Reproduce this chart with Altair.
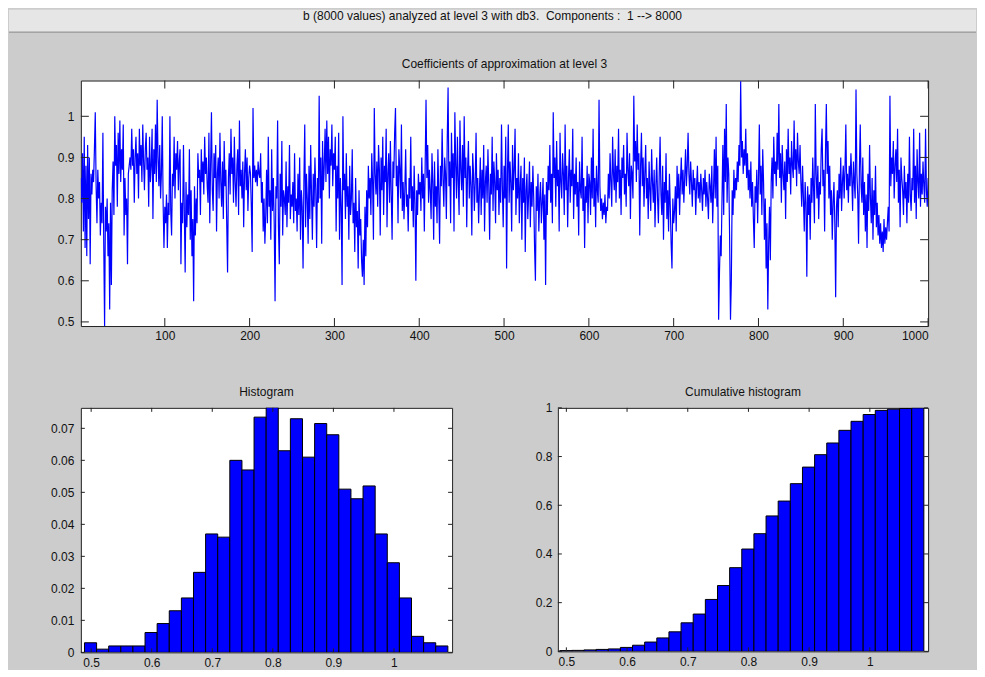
import altair as alt
import pandas as pd
import numpy as np

MAIN_TITLE = "b (8000 values) analyzed at level 3 with db3.\u00a0 Components :\u00a0 1 --> 8000"
TOP_TITLE = "Coefficients of approximation at level 3"
HIST_TITLE = "Histogram"
CUM_TITLE = "Cumulative histogram"

# approximation coefficients (index 1..1000)
coef = [
    0.85, 0.79, 0.91, 0.72, 0.95, 0.68, 0.88, 0.66, 0.93, 0.75,
    0.90, 0.64, 0.86, 0.81, 0.87, 0.84, 0.92, 1.01, 0.83, 0.74,
    0.87, 0.80, 0.84, 0.71, 0.79, 0.74, 0.96, 0.69, 0.49, 0.78,
    0.72, 0.80, 0.66, 0.74, 0.53, 0.79, 0.59, 0.82, 0.89, 0.76,
    1.00, 0.88, 0.93, 0.78, 0.96, 0.86, 0.99, 0.84, 0.92, 0.87,
    0.98, 0.71, 0.85, 0.76, 0.80, 0.64, 0.86, 0.88, 0.90, 0.87,
    0.97, 0.88, 0.92, 0.79, 0.90, 0.95, 0.86, 0.91, 0.80, 0.97,
    0.88, 0.93, 0.84, 0.98, 0.89, 0.82, 0.92, 0.96, 0.87, 0.90,
    0.78, 0.95, 0.84, 0.88, 0.97, 0.75, 0.92, 0.86, 0.98, 0.84,
    1.04, 0.90, 0.83, 0.93, 0.80, 0.86, 1.00, 0.79, 0.68, 0.78,
    0.74, 0.81, 0.68, 0.79, 0.76, 1.00, 0.77, 0.71, 0.86, 0.83,
    0.95, 0.80, 0.91, 0.87, 0.94, 0.82, 0.89, 0.92, 0.64, 0.79,
    0.74, 0.93, 0.77, 0.62, 0.84, 0.73, 0.81, 0.76, 0.92, 0.70,
    0.82, 0.66, 0.75, 0.55, 0.83, 0.71, 0.80, 0.74, 0.91, 0.85,
    0.87, 0.76, 0.92, 0.84, 0.89, 0.81, 0.95, 0.86, 0.90, 0.83,
    0.79, 0.96, 0.74, 0.88, 1.01, 0.82, 0.77, 0.91, 0.85, 0.93,
    0.72, 0.86, 0.90, 0.80, 0.96, 0.84, 0.78, 0.89, 0.75, 0.94,
    0.83, 0.87, 0.74, 0.62, 0.85, 0.91, 0.81, 0.97, 0.86, 0.90,
    0.79, 0.95, 0.84, 0.78, 0.88, 0.92, 0.76, 0.99, 0.83, 0.87,
    0.80, 0.89, 0.73, 0.86, 0.92, 0.82, 0.90, 0.77, 0.85, 0.88,
    0.86, 0.78, 0.67, 1.02, 0.85, 0.88, 0.84, 0.87, 0.83, 0.89,
    0.86, 0.85, 0.91, 0.79, 0.84, 0.72, 0.80, 0.69, 0.76, 0.87,
    0.74, 0.95, 0.78, 0.82, 0.70, 0.92, 0.77, 0.85, 0.74, 0.55,
    0.83, 0.80, 0.99, 0.73, 0.64, 0.86, 0.78, 0.94, 0.71, 0.82,
    0.80, 0.76, 0.89, 0.73, 0.83, 0.79, 0.93, 0.75, 0.81, 0.78,
    0.84, 0.74, 0.91, 0.77, 0.80, 0.72, 0.86, 0.76, 0.90, 0.70,
    0.82, 0.78, 0.63, 0.84, 0.98, 0.73, 0.86, 0.80, 0.69, 0.88,
    0.75, 0.93, 0.81, 0.70, 0.86, 0.78, 0.90, 0.82, 0.68, 0.85,
    0.79, 1.05, 0.80, 0.90, 0.69, 0.94, 0.82, 0.88, 0.97, 0.84,
    0.99, 0.86, 0.95, 0.80, 0.92, 0.88, 0.98, 0.83, 0.91, 0.87,
    0.95, 0.72, 0.88, 0.80, 0.96, 0.70, 0.85, 0.78, 0.59, 1.00,
    0.82, 0.86, 0.75, 0.91, 0.78, 0.83, 0.70, 0.88, 0.76, 0.80,
    0.92, 0.74, 0.79, 0.67, 0.85, 0.73, 0.77, 0.63, 0.82, 0.71,
    0.75, 0.65, 0.61, 0.70, 0.59, 0.78, 0.66, 0.82, 0.73, 0.88,
    0.80, 0.85, 0.76, 0.91, 0.84, 0.70, 1.02, 0.86, 0.81, 0.89,
    0.78, 0.93, 0.87, 0.71, 0.90, 0.82, 0.95, 0.76, 0.88, 0.84,
    0.97, 0.73, 0.86, 0.91, 0.79, 0.94, 0.81, 0.70, 0.89, 0.85,
    0.96, 1.02, 0.83, 0.88, 0.74, 0.92, 0.87, 0.80, 0.98, 0.77,
    0.84, 0.75, 0.82, 0.92, 0.78, 0.81, 0.72, 0.85, 0.80, 0.95,
    0.77, 0.83, 0.73, 0.88, 0.79, 0.60, 0.82, 0.76, 0.86, 0.81,
    0.84, 0.77, 0.90, 0.80, 0.86, 0.72, 0.88, 1.04, 0.85, 0.93,
    0.79, 0.87, 0.82, 0.75, 0.91, 0.84, 0.70, 0.89, 0.78, 0.83,
    0.74, 0.92, 0.81, 0.69, 0.88, 0.83, 0.97, 0.85, 0.78, 0.90,
    0.86, 0.75, 0.94, 1.07, 0.83, 0.89, 0.74, 0.96, 0.85, 0.91,
    0.72, 1.01, 0.88, 0.80, 0.95, 0.84, 0.76, 0.99, 0.87, 0.82,
    0.93, 0.78, 1.00, 0.85, 0.90, 0.73, 0.87, 0.94, 0.80, 0.88,
    0.83, 0.71, 0.91, 0.86, 0.77, 0.84, 0.96, 0.79, 0.85, 0.74,
    0.82, 0.90, 0.76, 0.87, 0.80, 0.93, 0.72, 0.84, 0.88, 0.79,
    0.92, 0.83, 0.70, 0.86, 0.81, 0.95, 0.77, 0.89, 0.84, 0.74,
    0.91, 0.82, 0.87, 0.76, 0.85, 0.79, 0.98, 0.83, 0.73, 0.88,
    0.80, 0.95, 0.63, 0.86, 0.98, 0.79, 0.89, 0.84, 0.72, 0.93,
    0.82, 0.87, 0.97, 0.76, 0.85, 0.80, 0.91, 0.74, 0.83, 0.88,
    0.70, 0.85, 0.79, 0.90, 0.67, 0.82, 0.86, 0.75, 0.81, 0.89,
    0.73, 0.84, 0.78, 0.88, 0.80, 0.68, 0.60, 0.83, 0.77, 0.86,
    0.72, 0.80, 0.84, 0.74, 0.79, 0.85, 0.70, 0.81, 0.59, 0.84,
    0.76, 0.88, 0.82, 0.93, 0.79, 0.86, 0.74, 1.01, 0.85, 0.90,
    0.78, 0.94, 0.83, 0.87, 0.72, 0.96, 0.84, 0.80, 0.91, 0.86,
    0.76, 0.98, 0.82, 0.88, 0.73, 0.85, 0.92, 0.79, 0.87, 0.83,
    0.97, 0.75, 0.86, 0.81, 0.90, 0.78, 0.84, 0.71, 0.89, 0.82,
    0.80, 0.95, 0.77, 0.85, 0.68, 0.83, 0.79, 0.88, 0.74, 0.86,
    0.84, 0.76, 0.90, 0.80, 0.97, 0.78, 0.85, 0.73, 0.88, 0.82,
    0.79, 1.04, 0.83, 0.77, 0.80, 0.75, 0.79, 0.76, 0.81, 0.74,
    0.78, 0.77, 0.86, 0.80, 0.91, 0.84, 0.78, 0.95, 0.86, 0.82,
    0.92, 0.79, 0.88, 0.84, 0.97, 0.80, 0.87, 0.76, 0.90, 0.85,
    0.93, 0.81, 0.86, 0.78, 0.96, 0.87, 0.83, 0.91, 0.75, 0.88,
    0.86, 0.80, 1.05, 0.89, 0.94, 0.84, 0.98, 0.87, 0.91, 0.71,
    0.88, 0.96, 0.83, 0.90, 0.78, 0.86, 0.93, 0.80, 0.85, 0.75,
    0.89, 0.82, 0.77, 0.92, 0.84, 0.79, 0.87, 0.73, 0.83, 0.90,
    0.80, 0.74, 0.86, 0.95, 0.81, 0.76, 0.88, 0.70, 0.84, 0.79,
    0.91, 0.75, 0.82, 0.72, 0.86, 0.78, 0.69, 0.63, 0.80, 0.74,
    0.77, 0.83, 0.72, 0.88, 0.80, 0.86, 0.76, 0.84, 0.90, 0.81,
    0.87, 0.79, 0.85, 0.92, 0.83, 0.88, 0.96, 0.86, 0.81, 0.89,
    0.84, 0.78, 0.87, 0.82, 0.85, 0.76, 0.83, 0.88, 0.80, 0.84,
    0.79, 0.86, 0.82, 0.77, 0.85, 0.81, 0.87, 0.78, 0.84, 0.80,
    0.75, 0.86, 0.83, 0.79, 0.88, 0.74, 0.82, 0.92, 0.80, 0.95,
    0.78, 0.88, 0.505, 0.62, 0.71, 0.66, 0.80, 0.93, 0.76, 0.97,
    0.84, 1.03, 0.79, 0.90, 0.86, 0.70, 0.505, 0.60, 0.82, 0.76,
    0.87, 0.80, 0.85, 0.82, 0.89, 0.84, 0.93, 0.88, 1.085, 0.90,
    0.94, 0.86, 0.92, 0.88, 0.97, 0.85, 0.91, 0.82, 0.87, 0.80,
    0.89, 0.78, 0.84, 0.75, 0.68, 0.83, 0.79, 0.87, 0.74, 0.85,
    0.98, 0.81, 0.88, 0.76, 0.92, 0.84, 0.70, 0.80, 0.63, 0.74,
    0.53, 0.69, 0.78, 0.65, 0.84, 0.90, 0.80, 0.95, 0.86, 0.89,
    0.83, 0.96, 0.87, 1.03, 0.85, 0.91, 0.79, 0.93, 0.86, 0.82,
    0.89, 0.75, 0.92, 0.84, 0.97, 0.86, 0.90, 0.81, 0.94, 0.88,
    0.85, 0.99, 0.87, 0.92, 0.83, 0.96, 0.89, 0.86, 0.93, 0.84,
    0.78, 0.88, 0.80, 0.72, 0.84, 0.79, 0.61, 0.83, 0.76, 0.81,
    0.70, 0.85, 0.79, 0.90, 0.82, 0.74, 1.03, 0.86, 0.80, 0.88,
    0.75, 0.84, 0.81, 0.92, 0.97, 0.83, 0.87, 0.72, 0.91, 1.03,
    0.86, 0.94, 0.80, 0.88, 0.76, 0.82, 0.70, 0.79, 0.84, 0.74,
    0.56, 0.78, 0.82, 0.73, 0.86, 0.80, 0.90, 0.77, 0.84, 0.88,
    0.80, 0.87, 0.98, 0.82, 0.86, 0.79, 0.88, 0.83, 0.91, 0.85,
    0.77, 0.89, 0.84, 0.80, 1.065, 0.86, 0.81, 0.69, 0.87, 0.98,
    0.83, 0.79, 0.90, 0.76, 0.84, 0.72, 0.81, 0.68, 0.86, 0.77,
    0.93, 0.80, 0.74, 0.85, 0.70, 0.82, 0.76, 0.88, 0.73, 0.79,
    0.71, 0.76, 0.69, 0.74, 0.68, 0.72, 0.67, 0.75, 0.69, 0.73,
    0.70, 0.74, 0.78, 0.72, 1.05, 0.83, 0.90, 0.86, 0.94, 0.80,
    0.88, 0.92, 0.84, 0.97, 0.79, 0.87, 0.73, 0.90, 0.85, 0.82,
    0.76, 0.88, 0.80, 0.84, 0.74, 0.86, 0.79, 0.95, 0.81, 0.77,
    0.85, 0.82, 0.97, 0.79, 0.88, 0.75, 0.92, 0.84, 0.80, 0.96,
    0.78, 0.86, 0.81, 0.89, 0.83, 0.79, 0.97, 0.82, 0.78, 0.85,
]

# histogram (30 bins of width 0.02)
bin_centers = [0.499, 0.519, 0.539, 0.559, 0.579, 0.599, 0.619, 0.639, 0.659, 0.679,
               0.699, 0.719, 0.739, 0.759, 0.779, 0.799, 0.819, 0.839, 0.859, 0.879,
               0.899, 0.919, 0.939, 0.959, 0.979, 0.999, 1.019, 1.039, 1.059, 1.079]
bin_freq = [0.003, 0.001, 0.002, 0.002, 0.002, 0.0062, 0.009, 0.013, 0.017, 0.025,
            0.037, 0.036, 0.060, 0.057, 0.0735, 0.0765, 0.063, 0.073, 0.061, 0.0715,
            0.068, 0.051, 0.048, 0.052, 0.037, 0.028, 0.017, 0.005, 0.003, 0.002]
BIN_WIDTH = 0.02

top_x_ticks = [100, 200, 300, 400, 500, 600, 700, 800, 900, 1000]
top_y_ticks = [0.5, 0.6, 0.7, 0.8, 0.9, 1.0]
hist_x_ticks = [0.5, 0.6, 0.7, 0.8, 0.9, 1.0]
hist_y_ticks = [0, 0.01, 0.02, 0.03, 0.04, 0.05, 0.06, 0.07]
cum_y_ticks = [0, 0.2, 0.4, 0.6, 0.8, 1.0]

BG = "#cccccc"
BANNER = "#e6e6e6"
BLUE = "#0000ff"
INK = "#111111"
FONT = "Liberation Sans"
FS = 12

df_coef = pd.DataFrame({"i": list(range(1, len(coef) + 1)), "v": coef})
df_hist = pd.DataFrame({"c": bin_centers, "f": bin_freq})
df_hist["lo"] = df_hist["c"] - BIN_WIDTH / 2
df_hist["hi"] = df_hist["c"] + BIN_WIDTH / 2
df_hist["base"] = 0.0
df_hist["cum"] = np.cumsum(df_hist["f"].to_numpy())


def tick_layers(xvals, xscale, xaxis, yvals, yscale, yaxis, W, H, L):
    dx = pd.DataFrame({"t": xvals})
    dy = pd.DataFrame({"t": yvals})
    out = []
    for y0, y1 in ((H, H - L), (0, L)):
        out.append(alt.Chart(dx).mark_rule(color="#222222", strokeWidth=1).encode(
            x=alt.X("t:Q", scale=xscale, axis=xaxis),
            y=alt.value(y0), y2=alt.value(y1)))
    for x0, x1 in ((0, L), (W, W - L)):
        out.append(alt.Chart(dy).mark_rule(color="#222222", strokeWidth=1).encode(
            y=alt.Y("t:Q", scale=yscale, axis=yaxis),
            x=alt.value(x0), x2=alt.value(x1)))
    return out


def panel_title(text, W, dy):
    d = pd.DataFrame({"txt": [text]})
    return alt.Chart(d).mark_text(font=FONT, fontSize=FS, color=INK,
                                  align="center", baseline="middle").encode(
        x=alt.value(W / 2), y=alt.value(dy), text="txt:N")


# ---------------- top panel ----------------
W1, H1 = 849, 246
xs1 = alt.Scale(domain=[1, 1000], nice=False, zero=False)
ys1 = alt.Scale(domain=[0.49, 1.087], nice=False, zero=False)
xa1 = alt.Axis(values=top_x_ticks, format="d", title=None, labelPadding=5)
ya1 = alt.Axis(values=top_y_ticks, format=".1~f", title=None, labelPadding=7)

line = alt.Chart(df_coef).mark_line(color=BLUE, strokeWidth=1.2, clip=True).encode(
    x=alt.X("i:Q", scale=xs1, axis=xa1),
    y=alt.Y("v:Q", scale=ys1, axis=ya1),
)

df_one = pd.DataFrame({"txt": [MAIN_TITLE]})
banner = alt.Chart(df_one).mark_rect(fill=BANNER).encode(
    x=alt.value(-72), x2=alt.value(897), y=alt.value(-71), y2=alt.value(-49))
banner_line = alt.Chart(df_one).mark_rule(color="#8a8a8a", strokeWidth=1).encode(
    x=alt.value(-72), x2=alt.value(897), y=alt.value(-48.5))
banner_text = alt.Chart(df_one).mark_text(font=FONT, fontSize=FS, color=INK,
                                          align="center", baseline="middle").encode(
    x=alt.value(412.5), y=alt.value(-65), text="txt:N")

top = alt.layer(banner, banner_line, banner_text, panel_title(TOP_TITLE, W1, -17), line,
                *tick_layers(top_x_ticks, xs1, xa1, top_y_ticks, ys1, ya1, W1, H1, 8)).properties(
    width=W1, height=H1)

# ---------------- histogram ----------------
W2, H2 = 372, 245
xs2 = alt.Scale(domain=[0.483, 1.096], nice=False, zero=False)
ys2 = alt.Scale(domain=[0, 0.0764], nice=False, zero=False)
xa2 = alt.Axis(values=hist_x_ticks, format=".1~f", title=None, labelPadding=5)
ya2 = alt.Axis(values=hist_y_ticks, format=".2~f", title=None, labelPadding=7)

bars = alt.Chart(df_hist).mark_rect(fill=BLUE, stroke="#000000", strokeWidth=1, clip=True).encode(
    x=alt.X("lo:Q", scale=xs2, axis=xa2),
    x2="hi:Q",
    y=alt.Y("f:Q", scale=ys2, axis=ya2),
    y2="base:Q",
)
hist = alt.layer(panel_title(HIST_TITLE, W2, -16), bars,
                 *tick_layers(hist_x_ticks, xs2, xa2, hist_y_ticks, ys2, ya2, W2, H2, 4)).properties(
    width=W2, height=H2)

# ---------------- cumulative histogram ----------------
W3, H3 = 371, 244
xs3 = alt.Scale(domain=[0.486, 1.096], nice=False, zero=False)
ys3 = alt.Scale(domain=[0, 1.0], nice=False, zero=False)
xa3 = alt.Axis(values=hist_x_ticks, format=".1~f", title=None, labelPadding=5)
ya3 = alt.Axis(values=cum_y_ticks, format=".1~f", title=None, labelPadding=6)

cbars = alt.Chart(df_hist).mark_rect(fill=BLUE, stroke="#000000", strokeWidth=1, clip=True).encode(
    x=alt.X("lo:Q", scale=xs3, axis=xa3),
    x2="hi:Q",
    y=alt.Y("cum:Q", scale=ys3, axis=ya3),
    y2="base:Q",
)
cum = alt.layer(panel_title(CUM_TITLE, W3, -16), cbars,
                *tick_layers(hist_x_ticks, xs3, xa3, cum_y_ticks, ys3, ya3, W3, H3, 4)).properties(
    width=W3, height=H3)

bottom = alt.hconcat(hist, cum, spacing=106, bounds="flush")

chart = alt.vconcat(top, bottom, spacing=82, bounds="flush").properties(
    padding=0, background=BG
).configure_view(
    fill="white", stroke="#222222", strokeWidth=1
).configure_axis(
    domain=False, ticks=False, grid=False,
    labelFont=FONT, labelFontSize=FS, labelColor=INK,
)

chart.save("out.html", embed_options={"renderer": "svg", "actions": False})
